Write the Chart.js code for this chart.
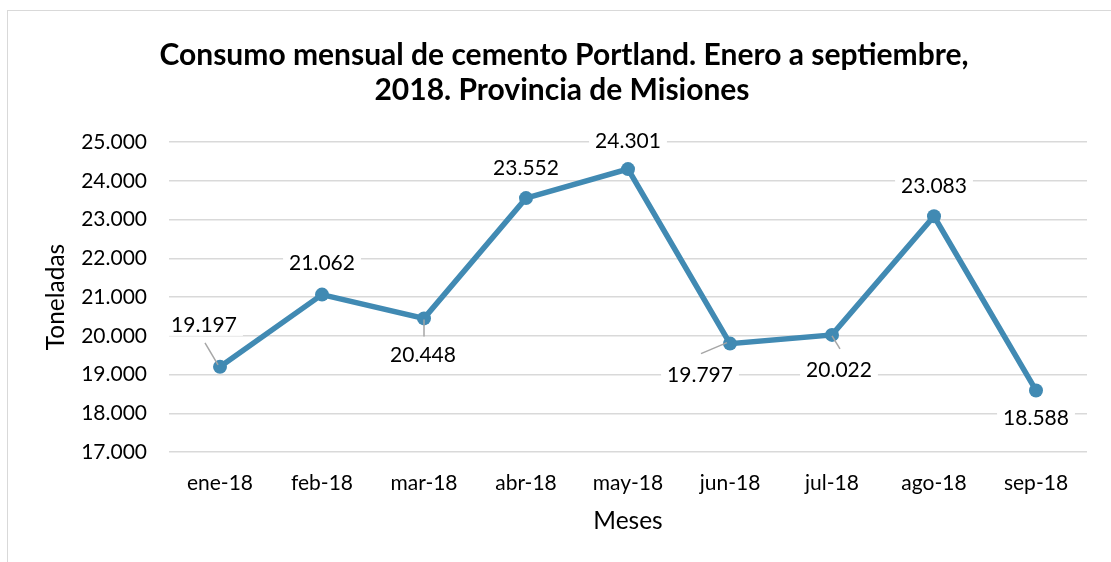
<!DOCTYPE html>
<html>
<head>
<meta charset="utf-8">
<script src="https://cdn.jsdelivr.net/npm/chart.js@4/dist/chart.umd.min.js"></script>
<style>
  html, body { margin: 0; padding: 0; background: #fff; }
  #wrap { position: relative; width: 1111px; height: 562px; overflow: hidden; }
  #frame { position: absolute; left: 7px; top: 10px; width: 1120px; height: 600px; border: 1.5px solid #d9d9d9; box-sizing: border-box; }
  canvas { position: absolute; left: 0; top: 0; }
</style>
</head>
<body>
<div id="wrap">
  <div id="frame"></div>
  <canvas id="c" width="1111" height="562"></canvas>
</div>
<script>
const titleLines = ["Consumo mensual de cemento Portland. Enero a septiembre,", "2018. Provincia de Misiones"];
const categories = ["ene-18", "feb-18", "mar-18", "abr-18", "may-18", "jun-18", "jul-18", "ago-18", "sep-18"];
const toneladas = [19197, 21062, 20448, 23552, 24301, 19797, 20022, 23083, 18588];
const yTitle = "Toneladas";
const xTitle = "Meses";

// label placement (pixel offsets from each point), leader lines [x1,y1,x2,y2] relative to point
const labelPlacement = [
  { dx: -16, dy: -43, leader: [-15, -24, -2, -2] },
  { dx: 0, dy: -32 },
  { dx: -1, dy: 36, leader: [0, 18, 0, 1] },
  { dx: 0, dy: -31 },
  { dx: 0, dy: -29 },
  { dx: -30, dy: 31, leader: [-29, 10, -3, -1] },
  { dx: 7, dy: 34, leader: [8, 14, 0, 1] },
  { dx: 0, dy: -31 },
  { dx: 0, dy: 27 }
];

const FONT = "Lato, 'Open Sans', sans-serif";
const fmt = v => v.toLocaleString('de-DE');

const titlePlugin = {
  id: 'customTitle',
  afterDraw(chart) {
    const ctx = chart.ctx;
    ctx.save();
    ctx.font = "bold 30px " + FONT;
    ctx.fillStyle = '#000';
    ctx.textAlign = 'center';
    ctx.textBaseline = 'middle';
    ctx.fillText(titleLines[0], 564, 55);
    ctx.fillText(titleLines[1], 562, 90);
    ctx.restore();
  }
};

const labelPlugin = {
  id: 'dataLabels',
  afterDatasetsDraw(chart) {
    const ctx = chart.ctx;
    const meta = chart.getDatasetMeta(0);
    ctx.save();
    ctx.font = "21px " + FONT;
    ctx.textAlign = 'center';
    ctx.textBaseline = 'middle';
    meta.data.forEach((pt, i) => {
      const p = labelPlacement[i];
      const text = fmt(toneladas[i]);
      const x = pt.x + p.dx, y = pt.y + p.dy;
      const w = ctx.measureText(text).width + 12;
      if (p.leader) {
        ctx.strokeStyle = '#a6a6a6';
        ctx.lineWidth = 1.5;
        ctx.beginPath();
        ctx.moveTo(pt.x + p.leader[0], pt.y + p.leader[1]);
        ctx.lineTo(pt.x + p.leader[2], pt.y + p.leader[3]);
        ctx.stroke();
      }
      ctx.fillStyle = '#ffffff';
      ctx.fillRect(x - w / 2, y - 12, w, 24);
      ctx.fillStyle = '#000000';
      ctx.fillText(text, x, y + 1);
    });
    ctx.restore();
  }
};

new Chart(document.getElementById('c'), {
  type: 'line',
  data: {
    labels: categories,
    datasets: [{
      data: toneladas,
      borderColor: '#418ab3',
      backgroundColor: '#418ab3',
      borderWidth: 5.5,
      pointRadius: 7,
      pointHoverRadius: 7,
      pointBorderWidth: 0,
      tension: 0,
      clip: false
    }]
  },
  options: {
    responsive: false,
    animation: false,
    events: [],
    layout: { padding: { left: 0, right: 24, top: 142, bottom: 0 } },
    plugins: {
      legend: { display: false },
      tooltip: { enabled: false },
      title: { display: false }
    },
    scales: {
      x: {
        offset: true,
        grid: { display: false, drawTicks: false },
        border: { display: false },
        ticks: { color: '#000', font: { family: FONT, size: 21 }, padding: 19, maxRotation: 0 },
        title: { display: true, text: xTitle, color: '#000', font: { family: FONT, size: 24.5 }, padding: { top: 0, bottom: 26 } },
        afterFit(s) { s.height = 110; }
      },
      y: {
        min: 17000,
        max: 25000,
        ticks: { stepSize: 1000, color: '#000', font: { family: FONT, size: 21 }, padding: 22, callback: v => fmt(v) },
        grid: { color: '#d9d9d9', lineWidth: 1.5, drawTicks: false },
        border: { display: false },
        title: { display: true, text: yTitle, color: '#000', font: { family: FONT, size: 24.5 }, padding: { top: 41, bottom: 0 } },
        afterFit(s) { s.width = 169; }
      }
    }
  },
  plugins: [labelPlugin, titlePlugin]
});
</script>
</body>
</html>
